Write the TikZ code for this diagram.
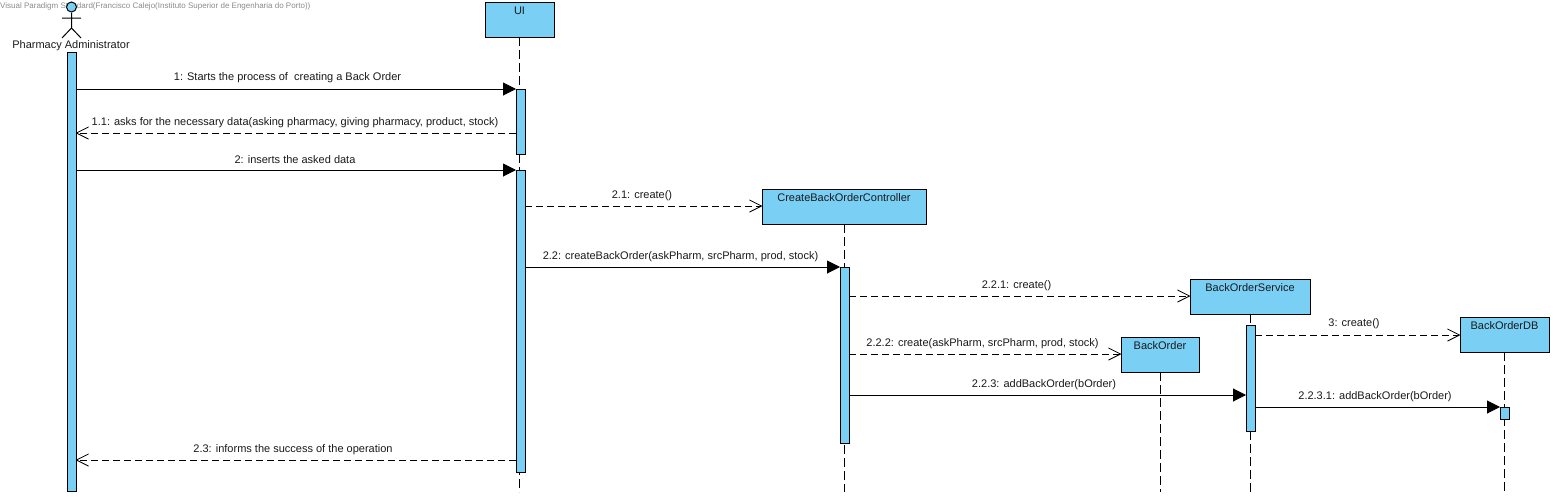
\documentclass[tikz,border=0pt]{standalone}
\usepackage{fontspec}
\setmainfont{Liberation Sans}
\usetikzlibrary{arrows.meta}
\definecolor{vpblue}{HTML}{7ACFF5}
\definecolor{vptext}{HTML}{1A1A1A}
\definecolor{vpgray}{HTML}{8C8C8C}
\tikzset{
  objbox/.style={draw=black,fill=vpblue,line width=1pt,anchor=north west,inner xsep=0pt,inner ysep=0pt,
    text height=12pt,text depth=23pt,align=center,outer sep=0pt,text=vptext,font=\fontsize{11}{13}\selectfont},
  actbar/.style={draw=black,fill=vpblue,line width=1pt,anchor=north west,inner sep=0pt,outer sep=0pt,minimum width=9pt},
  lifeline/.style={draw=black,line width=1pt,dash pattern=on 9pt off 4pt},
  syncmsg/.style={draw=black,line width=1pt,-{Triangle[length=13pt,width=13pt]}},
  asyncmsg/.style={draw=black,line width=1pt,dash pattern=on 7pt off 4pt,-{Straight Barb[length=12pt,width=12pt,line width=0.8pt,round=false]}},
  msglabel/.style={text=vptext,inner sep=0pt,yshift=-1.7pt,font=\fontsize{11}{13}\selectfont},
}
\begin{document}
\begin{tikzpicture}[x=1pt,y=-1pt]
\useasboundingbox (0,0) rectangle (1553,496);
\fill[white] (0,0) rectangle (1553,496);
% watermark
\node[anchor=west,inner sep=0pt,text=vpgray,font=\fontsize{8}{10}\selectfont] (wm) at (0,6.5) {Visual Paradigm Standard(Francisco Calejo(Instituto Superior de Engenharia do Porto))};
% objects
\node[objbox,minimum width=69pt] (ui) at (485,2) {UI};
\node[objbox,minimum width=164pt] (ctrl) at (762,189) {CreateBackOrderController};
\node[objbox,minimum width=120pt] (svc) at (1190,279) {BackOrderService};
\node[objbox,minimum width=78pt] (bo) at (1121,337) {BackOrder};
\node[objbox,minimum width=89pt] (db) at (1460,317) {BackOrderDB};
% actor
\node[circle,draw=black,fill=vpblue,line width=1pt,minimum size=10pt,inner sep=0pt] (head) at (71.5,7) {};
\coordinate (hip) at (71.5,28);
\coordinate (armL) at (62,18);
\coordinate (armR) at (81,18);
\coordinate (footL) at (62,38);
\coordinate (footR) at (81,38);
\draw[line width=1pt] (head.south) -- (hip) (armL) -- (armR) (footL) -- (hip) -- (footR);
\node[msglabel] (actor) at (71,43.5) {Pharmacy Administrator};
% lifelines
\draw[lifeline] (ui.south) -- (ui.south |- 0,492);
\draw[lifeline] (ctrl.south) -- (ctrl.south |- 0,492);
\draw[lifeline] (svc.south) -- (svc.south |- 0,492);
\draw[lifeline] (bo.south) -- (bo.south |- 0,492);
\draw[lifeline] (db.south) -- (db.south |- 0,492);
% activation bars
\node[actbar,minimum height=439pt] (barA) at (67,52) {};
\node[actbar,minimum height=65pt] (barU1) at (516,89) {};
\node[actbar,minimum height=302pt] (barU2) at (516,170) {};
\node[actbar,minimum height=176pt] (barC) at (840,267) {};
\node[actbar,minimum height=106pt] (barS) at (1246,325) {};
\node[actbar,minimum height=12pt] (barD) at (1500,407) {};
% messages
\draw[syncmsg] (barA.east |- 0,89) -- (barU1.west |- 0,89);
\draw[asyncmsg] (barU1.west |- 0,133) -- (barA.east |- 0,133);
\draw[syncmsg] (barA.east |- 0,170) -- (barU2.west |- 0,170);
\draw[asyncmsg] (barU2.east |- 0,206) -- (ctrl.west |- 0,206);
\draw[syncmsg] (barU2.east |- 0,267) -- (barC.west |- 0,267);
\draw[asyncmsg] (barC.east |- 0,296) -- (svc.west |- 0,296);
\draw[asyncmsg] (barC.east |- 0,354) -- (bo.west |- 0,354);
\draw[syncmsg] (barC.east |- 0,395) -- (barS.west |- 0,395);
\draw[asyncmsg] (barS.east |- 0,335) -- (db.west |- 0,335);
\draw[syncmsg] (barS.east |- 0,407) -- (barD.west |- 0,407);
\draw[asyncmsg] (barU2.west |- 0,460) -- (barA.east |- 0,460);
% labels
\node[msglabel] (m1) at (287.5,76) {1: Starts the process of\ \ creating a Back Order};
\node[msglabel] (m11) at (295,121) {1.1: asks for the necessary data(asking pharmacy, giving pharmacy, product, stock)};
\node[msglabel] (m2) at (295,158) {2: inserts the asked data};
\node[msglabel] (m21) at (642,194) {2.1: create()};
\node[msglabel] (m22) at (680.5,255) {2.2: createBackOrder(askPharm, srcPharm, prod, stock)};
\node[msglabel] (m221) at (1016.5,284) {2.2.1: create()};
\node[msglabel] (m222) at (982.5,342) {2.2.2: create(askPharm, srcPharm, prod, stock)};
\node[msglabel] (m223) at (1044,383) {2.2.3: addBackOrder(bOrder)};
\node[msglabel] (m3) at (1354,322) {3: create()};
\node[msglabel] (m2231) at (1375,395) {2.2.3.1: addBackOrder(bOrder)};
\node[msglabel] (m23) at (293,448) {2.3: informs the success of the operation};
\end{tikzpicture}
\end{document}
